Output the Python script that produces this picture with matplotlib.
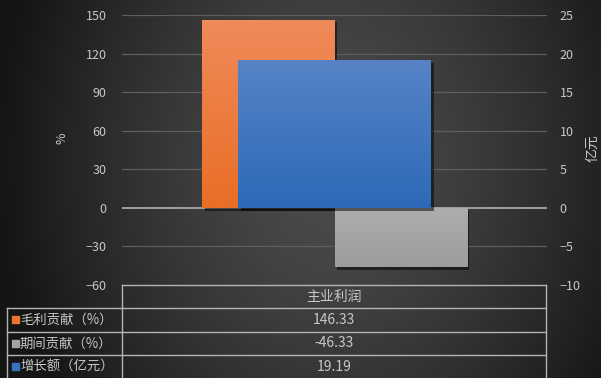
import numpy as np
import matplotlib.pyplot as plt
from matplotlib import patheffects
from matplotlib.colors import LinearSegmentedColormap

plt.rcParams['font.family'] = ['Noto Sans CJK SC', 'DejaVu Sans']

# data
category = ['主业利润']
series_names = ['毛利贡献（%）', '期间贡献（%）', '增长额（亿元）']
gross_contrib = [146.33]   # %
period_contrib = [-46.33]  # %
growth_amount = [19.19]    # 亿元

left_ticks = list(range(-60, 151, 30))
right_ticks = list(range(-10, 26, 5))

text_col = '#c8c8c8'
grid_col = '#5e5e5e'
line_col = '#b4b4b4'

W, H = 601, 378
fig = plt.figure(figsize=(W / 100, H / 100), dpi=100)

# dark radial background
bg = fig.add_axes([0, 0, 1, 1], zorder=-10)
yy, xx = np.mgrid[0:H, 0:W]
r = np.sqrt(((xx - 330) / 330.0) ** 2 + ((yy - 160) / 420.0) ** 2)
r = np.clip(r, 0, 1) ** 1.4
c0 = np.array([0x4c, 0x4c, 0x4c]) / 255
c1 = np.array([0x15, 0x15, 0x15]) / 255
img = c0[None, None, :] * (1 - r[..., None]) + c1[None, None, :] * r[..., None]
bg.imshow(img, extent=[0, W, H, 0], aspect='auto')
bg.set_xlim(0, W)
bg.set_ylim(H, 0)
bg.axis('off')

ax = fig.add_axes([122 / W, 1 - 285 / H, 425 / W, 270 / H])
ax.patch.set_alpha(0)
ax.set_xlim(-0.5, 0.5)
ax.set_ylim(-60, 150)
ax.set_yticks(left_ticks)
ax.set_xticks([])
for y in left_ticks[1:]:
    if y != 0:
        ax.axhline(y, color=grid_col, lw=0.9, zorder=0)
ax.axhline(0, color='#a8a8a8', lw=1.3, zorder=0.5)
for s in ax.spines.values():
    s.set_visible(False)
ax.tick_params(axis='y', length=0, pad=11, labelsize=9, labelcolor=text_col)

ax2 = ax.twinx()
ax2.set_ylim(-10, 25)
ax2.set_yticks(right_ticks)
for s in ax2.spines.values():
    s.set_visible(False)
ax2.tick_params(axis='y', length=0, pad=9, labelsize=9, labelcolor=text_col)


def grad_fill(axis, bar, top, bottom):
    # vertical gradient clipped to the bar rectangle
    x0, y0 = bar.get_x(), bar.get_y()
    x1, y1 = x0 + bar.get_width(), y0 + bar.get_height()
    cmap = LinearSegmentedColormap.from_list('g', [bottom, top])
    grad = np.linspace(0, 1, 64).reshape(-1, 1)
    im = axis.imshow(grad, cmap=cmap, extent=[x0, x1, min(y0, y1), max(y0, y1)],
                     origin='lower', aspect='auto', zorder=bar.get_zorder() + 0.1)
    im.set_clip_path(bar)


shadow = [patheffects.SimplePatchShadow(offset=(2, -2), alpha=0.5, shadow_rgbFace='black'),
          patheffects.Normal()]

w = 0.311
b1 = ax.bar(-w / 2, gross_contrib, width=w, color='#ec7630', zorder=2)[0]
b2 = ax.bar(w / 2, period_contrib, width=w, color='#a3a3a3', zorder=2)[0]
b3 = ax2.bar(0, growth_amount, width=0.453, color='#3a70bd', zorder=2)[0]
for b in (b1, b2, b3):
    b.set_path_effects(shadow)
grad_fill(ax, b1, '#f08a5a', '#e96e26')
grad_fill(ax, b2, '#adadad', '#9d9d9d')
grad_fill(ax2, b3, '#5783c6', '#2c6ab7')
ax.set_xlim(-0.5, 0.5)
ax.set_ylim(-60, 150)
ax2.set_xlim(-0.5, 0.5)
ax2.set_ylim(-10, 25)

# axis titles
fig.text(62 / W, 1 - 138 / H, '%', color=text_col, fontsize=9, rotation=90,
         ha='center', va='center')
fig.text(592 / W, 1 - 148 / H, '亿元', color=text_col, fontsize=10, rotation=90,
         ha='center', va='center')

# data table under the plot, drawn in pixel coordinates
tb = fig.add_axes([0, 0, 1, 1], zorder=5)
tb.set_xlim(0, W)
tb.set_ylim(H, 0)
tb.axis('off')
tb.patch.set_alpha(0)

xl, xm, xr = 7, 122, 546
row_y = [285, 308, 331.5, 355, 378.5]
tb.plot([xm, xr], [row_y[0], row_y[0]], color=line_col, lw=1)
for y in row_y[1:4]:
    tb.plot([xl, xr], [y, y], color=line_col, lw=1)
tb.plot([xl, xl], [row_y[1], H], color=line_col, lw=1)
tb.plot([xm, xm], [row_y[0], H], color=line_col, lw=1)
tb.plot([xr, xr], [row_y[0], H], color=line_col, lw=1)

xc = (xm + xr) / 2
tb.text(xc, (row_y[0] + row_y[1]) / 2, category[0], color=text_col, fontsize=10,
        ha='center', va='center')
key_colors = ['#ec7630', '#a3a3a3', '#3a70bd']
values = [gross_contrib[0], period_contrib[0], growth_amount[0]]
for i, (name, val, kc) in enumerate(zip(series_names, values, key_colors)):
    yc = (row_y[i + 1] + row_y[i + 2]) / 2
    tb.add_patch(plt.Rectangle((11.5, yc - 3.7), 7, 7, color=kc))
    tb.text(20, yc, name, color=text_col, fontsize=9.6, ha='left', va='center')
    tb.text(xc, yc, f'{val:.2f}', color=text_col, fontsize=10, ha='center', va='center')

fig.savefig('out.png', dpi=100)
